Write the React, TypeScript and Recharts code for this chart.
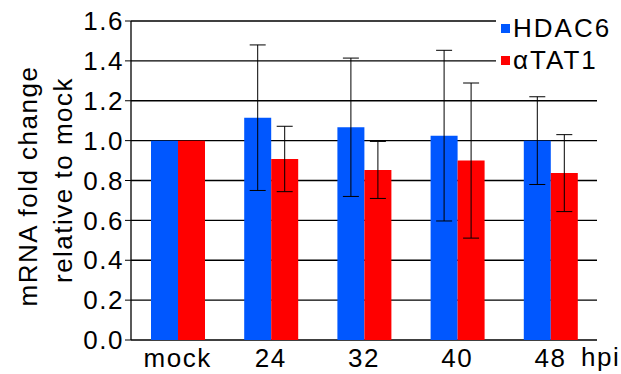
import React from 'react';
import { BarChart, Bar, XAxis, YAxis, CartesianGrid, Legend, ErrorBar } from 'recharts';

const categories = ['mock', '24', '32', '40', '48'];
const hdac6 = [1.0, 1.115, 1.067, 1.025, 1.0];
const hdac6Err = [null, 0.365, 0.347, 0.428, 0.22];
const tat1 = [1.0, 0.908, 0.853, 0.9, 0.837];
const tat1Err = [null, 0.164, 0.143, 0.389, 0.193];
const yTicks = [0, 0.2, 0.4, 0.6, 0.8, 1.0, 1.2, 1.4, 1.6];
const edgeTicks = [0, 1, 2, 3, 4, 5];

const BLUE = '#0057FF';
const RED = '#FF0000';
const FONT = '"Liberation Sans", Arial, sans-serif';

const data = categories.map((name, i) => ({
  name,
  hdac6: hdac6[i],
  hdac6Err: hdac6Err[i],
  tat1: tat1[i],
  tat1Err: tat1Err[i],
}));

const textStyle = { fontFamily: FONT, fontSize: 26, letterSpacing: 1.5, fill: '#000' };

const YLabel = () => (
  <g>
    <text x={37} y={186} transform="rotate(-90 37 186)" textAnchor="middle" style={textStyle}>
      mRNA fold change
    </text>
    <text x={72} y={180} transform="rotate(-90 72 180)" textAnchor="middle" style={textStyle}>
      relative to mock
    </text>
  </g>
);

const HpiLabel = (props: any) => {
  const vb = props.viewBox || {};
  return (
    <text x={vb.x + vb.width - 16} y={366} textAnchor="start" style={textStyle}>
      hpi
    </text>
  );
};

const LegendBox = (props: any) => {
  const payload = props.payload || [];
  return (
    <div style={{ background: '#fff', paddingLeft: 5, fontFamily: FONT, fontSize: 26, letterSpacing: 2 }}>
      {payload.map((p: any) => (
        <div key={p.value} style={{ display: 'flex', alignItems: 'center', height: 32, lineHeight: '32px' }}>
          <span style={{ width: 9, height: 9, background: p.color, marginRight: 3, display: 'inline-block' }} />
          <span>{p.value}</span>
        </div>
      ))}
    </div>
  );
};

export default function App() {
  return (
    <div style={{ position: 'absolute', left: 0, top: 0, width: 621, height: 374, background: '#fff' }}>
      <BarChart
        width={621}
        height={374}
        data={data}
        margin={{ top: 21, right: 24, bottom: 0, left: 0 }}
        barGap={0}
        barSize={27}
      >
        <CartesianGrid vertical={false} stroke="#000" strokeWidth={1.3} />
        <XAxis
          xAxisId="edge"
          type="number"
          domain={[0, 5]}
          ticks={edgeTicks}
          allowDataOverflow
          tick={false}
          tickSize={5}
          height={0}
          stroke="#000"
          axisLine={{ stroke: '#000', strokeWidth: 1.3 }}
          tickLine={{ stroke: '#000' }}
        />
        <XAxis
          dataKey="name"
          height={34}
          axisLine={false}
          tickLine={false}
          tickSize={0}
          tickMargin={9}
          tick={textStyle}
          interval={0}
          label={<HpiLabel />}
        />
        <YAxis
          width={131}
          domain={[0, 1.6]}
          ticks={yTicks}
          interval={0}
          tickFormatter={(v: number) => v.toFixed(1)}
          tick={textStyle}
          tickSize={6}
          tickMargin={1}
          axisLine={{ stroke: '#000', strokeWidth: 1.3 }}
          tickLine={{ stroke: '#000' }}
          label={<YLabel />}
        />
        <Legend
          layout="horizontal"
          verticalAlign="middle"
          align="center"
          content={<LegendBox />}
          wrapperStyle={{ top: 12, left: 496, width: 125, height: 64 }}
        />
        <Bar dataKey="hdac6" name="HDAC6" fill={BLUE} isAnimationActive={false}>
          <ErrorBar dataKey="hdac6Err" width={8} stroke="#000" strokeWidth={1} />
        </Bar>
        <Bar dataKey="tat1" name="αTAT1" fill={RED} isAnimationActive={false}>
          <ErrorBar dataKey="tat1Err" width={8} stroke="#000" strokeWidth={1} />
        </Bar>
      </BarChart>
    </div>
  );
}
